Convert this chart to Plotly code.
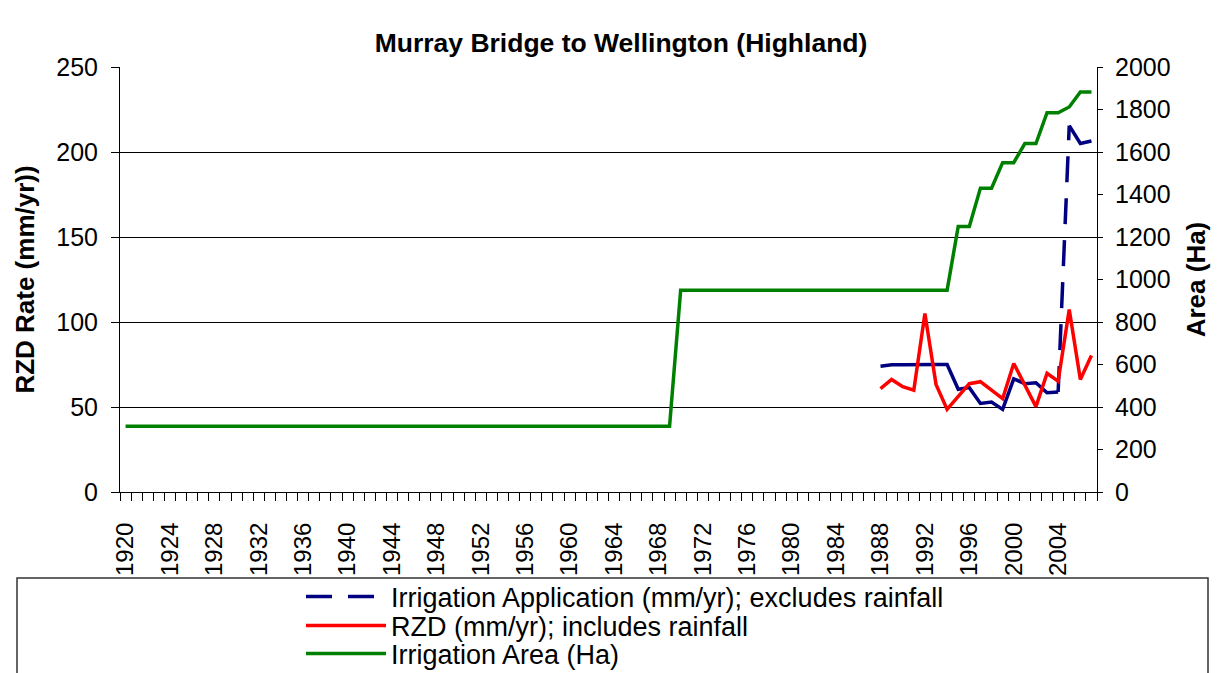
import plotly.graph_objects as go

# ---------------- data ----------------
years = list(range(1920, 2008))

# Irrigation area (Ha), one value per year 1920..2007
area_ha = ([310] * 50            # 1920-1969
           + [950] * 25          # 1970-1994
           + [1250, 1250,        # 1995-1996
              1430, 1430,        # 1997-1998
              1550, 1550,        # 1999-2000
              1640, 1640,        # 2001-2002
              1785, 1785,        # 2003-2004
              1812,              # 2005
              1882, 1882])       # 2006-2007

data_years = list(range(1988, 2008))
irrigation_app = [74.0, 74.8, 74.8, 75.0, 75.0, 75.0, 75.0, 60.4, 61.4, 52.1,
                  52.9, 48.6, 66.6, 63.7, 64.3, 58.4, 58.8, 215.5, 205.0, 206.5]
rzd = [60.8, 66.2, 61.9, 59.9, 105.0, 63.3, 48.6, 56.4, 63.7, 64.9,
       59.9, 54.9, 75.6, 63.3, 50.2, 69.8, 65.2, 107.4, 66.2, 80.3]

label_years = list(range(1920, 2005, 4))
left_ticks = [0, 50, 100, 150, 200, 250]
right_ticks = list(range(0, 2001, 200))

FONT = "Liberation Sans, Arial, Helvetica, sans-serif"
NAVY = "#000080"
RED = "#FF0000"
GREEN = "#008000"
LW = 3.5

# the page body adds an 8px offset; figure is sized to fill the rest
OFF = 8
W, H = 1230 - OFF, 673 - OFF
# plot-area geometry in page pixels
PL, PR, PT, PB = 120, 1097, 67, 492
L, R, T, B = PL - OFF, PR - OFF, PT - OFF, PB - OFF

def px_x(p):
    return (p - PL) / float(PR - PL)

def px_y(p):
    return (PB - p) / float(PB - PT)

# split the irrigation application series: Excel restarts dashes per segment,
# so the short segments look solid; only the long 2004->2005 jump shows dashes
i_jump = data_years.index(2004)
solid_x = data_years[:i_jump + 1] + [None] + data_years[i_jump + 1:]
solid_y = irrigation_app[:i_jump + 1] + [None] + irrigation_app[i_jump + 1:]
dash_x = data_years[i_jump:i_jump + 2]
dash_y = irrigation_app[i_jump:i_jump + 2]

fig = go.Figure()

fig.add_trace(go.Scatter(
    x=dash_x, y=dash_y, mode="lines",
    name="Irrigation Application (mm/yr); excludes rainfall",
    line=dict(color=NAVY, width=LW, dash="26px,16px"), xaxis="x", yaxis="y",
    legend="legend"))
fig.add_trace(go.Scatter(
    x=solid_x, y=solid_y, mode="lines", showlegend=False, connectgaps=False,
    line=dict(color=NAVY, width=LW), xaxis="x", yaxis="y", hoverinfo="skip"))
fig.add_trace(go.Scatter(
    x=data_years, y=rzd, mode="lines", name="RZD (mm/yr); includes rainfall",
    line=dict(color=RED, width=LW), xaxis="x", yaxis="y", legend="legend2"))
fig.add_trace(go.Scatter(
    x=years, y=area_ha, mode="lines", name="Irrigation Area (Ha)",
    line=dict(color=GREEN, width=LW), xaxis="x", yaxis="y2", legend="legend3"))

xr = [1919.5, 2007.5]
LEG_FONT = dict(family=FONT, size=27, color="black")
leg_common = dict(xref="paper", yref="paper", x=px_x(301), xanchor="left",
                  yanchor="middle", font=LEG_FONT, itemwidth=80,
                  bgcolor="rgba(0,0,0,0)", borderwidth=0)

fig.update_layout(
    width=W, height=H,
    margin=dict(l=L, r=W - R, t=T, b=H - B, autoexpand=False),
    paper_bgcolor="white", plot_bgcolor="white",
    font=dict(family=FONT, color="black", size=25),
    title=dict(text="<b>Murray Bridge to Wellington (Highland)</b>",
               font=dict(family=FONT, size=26.5, color="black"),
               xref="container", x=(621 - OFF) / W, xanchor="center",
               yref="container", y=1 - (43 - OFF) / H, yanchor="middle"),
    showlegend=True,
    legend=dict(y=px_y(597), **leg_common),
    legend2=dict(y=px_y(626), **leg_common),
    legend3=dict(y=px_y(654), **leg_common),
    xaxis=dict(
        range=xr, tickmode="array", tickvals=label_years,
        ticktext=[str(y) for y in label_years], tickangle=-90,
        ticks="outside", ticklen=0, ticklabelstandoff=20,
        tickfont=dict(family=FONT, size=24, color="black"),
        minor=dict(tickmode="linear", tick0=1919.5, dtick=1, ticks="outside",
                   ticklen=8, tickcolor="black", tickwidth=1, showgrid=False),
        showline=True, linecolor="black", linewidth=1,
        showgrid=False, zeroline=False, fixedrange=True),
    xaxis3=dict(
        range=xr, overlaying="x", anchor="y", side="bottom",
        showticklabels=False, ticks="", showline=False, showgrid=False,
        zeroline=False,
        minor=dict(tickmode="linear", tick0=1919.5, dtick=1, ticks="inside",
                   ticklen=8, tickcolor="black", tickwidth=1, showgrid=False)),
    yaxis=dict(
        range=[0, 250], tickmode="array", tickvals=left_ticks,
        ticks="outside", ticklen=8, tickcolor="black",
        ticklabelstandoff=8,
        tickfont=dict(family=FONT, size=25, color="black"),
        showline=True, linecolor="black", linewidth=1,
        showgrid=True, gridcolor="black", gridwidth=1, zeroline=False,
        title=dict(text="<b>RZD Rate (mm/yr))</b>", standoff=14,
                   font=dict(family=FONT, size=26, color="black"))),
    yaxis2=dict(
        range=[0, 2000], tickmode="array", tickvals=right_ticks,
        overlaying="y", side="right", anchor="x",
        ticks="outside", ticklen=5, tickcolor="black",
        ticklabelstandoff=7,
        tickfont=dict(family=FONT, size=25, color="black"),
        showline=True, linecolor="black", linewidth=1,
        showgrid=False, zeroline=False,
        title=dict(text="<b>Area (Ha)</b>", standoff=17,
                   font=dict(family=FONT, size=26, color="black"))),
    yaxis3=dict(
        range=[0, 2000], tickmode="array", tickvals=right_ticks,
        overlaying="y", side="right", anchor="x",
        ticks="inside", ticklen=5, tickcolor="black",
        showticklabels=False, showline=False, showgrid=False, zeroline=False),
)

# chart border and legend box (decoration, paper coordinates)
fig.add_shape(type="rect", xref="paper", yref="paper",
              x0=px_x(5), x1=px_x(1260), y0=px_y(5.5), y1=px_y(720),
              line=dict(color="#333333", width=1.5), layer="below")
fig.add_shape(type="rect", xref="paper", yref="paper",
              x0=px_x(17), x1=px_x(1208), y0=px_y(578), y1=px_y(720),
              line=dict(color="#333333", width=1.5), layer="below")

fig.write_html("out.html")
